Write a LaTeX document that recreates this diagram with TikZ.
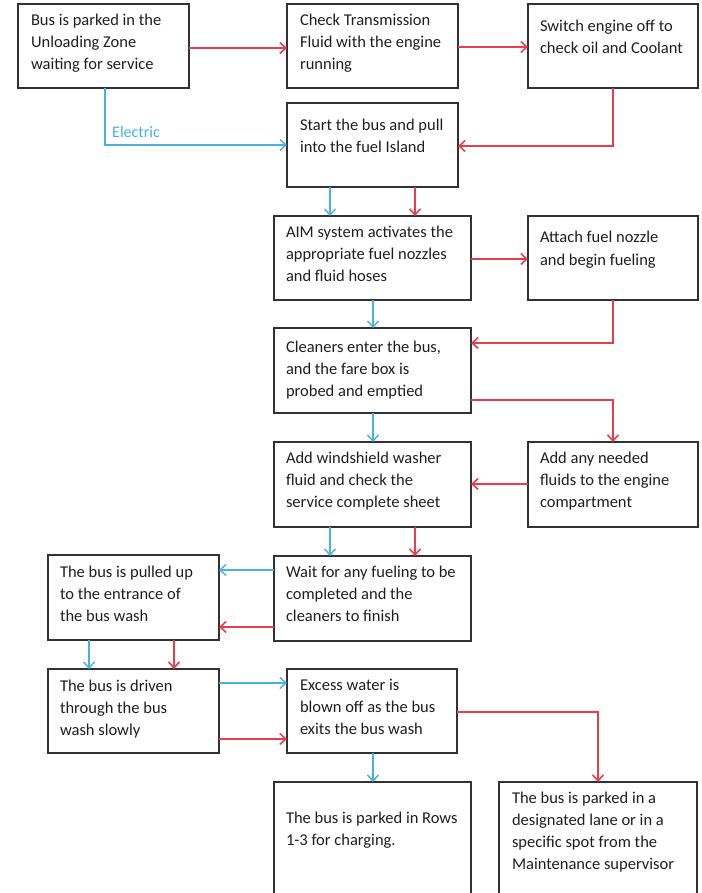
\documentclass[tikz,border=0pt]{standalone}
\usepackage{fontspec}
\setmainfont{Carlito}
\usetikzlibrary{arrows.meta}
\definecolor{rd}{RGB}{230,62,78}
\definecolor{bl}{RGB}{70,178,222}
\definecolor{bd}{RGB}{50,50,50}
\definecolor{tx}{RGB}{30,30,30}
\tikzset{
  box/.style={draw=bd, line width=1.3pt, inner sep=0pt, outer sep=0pt, anchor=north west},
  txt/.style={anchor=north west, inner sep=0pt, outer sep=0pt, align=left, text=tx,
    font=\fontsize{16.5}{22}\selectfont},
  rline/.style={draw=rd, line width=1.9pt, -{Straight Barb[length=6pt,width=11pt,line width=1.6pt]}},
  bline/.style={draw=bl, line width=1.5pt, -{Straight Barb[length=6pt,width=11pt,line width=1.4pt]}},
  lbl/.style={anchor=base west, inner sep=0pt, text=bl, font=\fontsize{16}{19}\selectfont},
}
\newcommand{\st}{\rule{0pt}{14pt}}
\begin{document}
\begin{tikzpicture}[x=1pt,y=-1pt]
\useasboundingbox (0,0) rectangle (701,893);
\clip (0,0) rectangle (701,893);
% boxes
\node[box, minimum width=171, minimum height=84] (bus) at (18,4) {};
\node[box, minimum width=171, minimum height=84] (check) at (287,4) {};
\node[box, minimum width=170, minimum height=84] (switch) at (528,4) {};
\node[box, minimum width=171, minimum height=84] (start) at (287,103) {};
\node[box, minimum width=197, minimum height=84] (aim) at (274,216) {};
\node[box, minimum width=170, minimum height=84] (attach) at (528,216) {};
\node[box, minimum width=197, minimum height=85] (clean) at (274,328) {};
\node[box, minimum width=197, minimum height=85] (wind) at (274,442) {};
\node[box, minimum width=170, minimum height=85] (addany) at (528,442) {};
\node[box, minimum width=197, minimum height=85] (wait) at (274,556) {};
\node[box, minimum width=171, minimum height=85] (pulled) at (48,555) {};
\node[box, minimum width=171, minimum height=84] (driven) at (48,669) {};
\node[box, minimum width=170, minimum height=84] (excess) at (287,669) {};
\node[box, minimum width=197, minimum height=130] (rows) at (274,782) {};
\node[box, minimum width=198, minimum height=130] (maint) at (499,782) {};
% texts
\node[txt] (bus-t) at (31,12) {\st Bus is parked in the\\Unloading Zone\\waiting for service};
\node[txt] (check-t) at (300,12) {\st Check Transmission\\Fluid with the engine\\running};
\node[txt] (switch-t) at (540,18) {\st Switch engine off to\\check oil and Coolant};
\node[txt] (start-t) at (300,117) {\st Start the bus and pull\\into the fuel Island};
\node[txt] (aim-t) at (286,223) {\st AIM system activates the\\appropriate fuel nozzles\\and fluid hoses};
\node[txt] (attach-t) at (540,229) {\st Attach fuel nozzle\\and begin fueling};
\node[txt] (clean-t) at (286,338) {\st Cleaners enter the bus,\\and the fare box is\\probed and emptied};
\node[txt] (wind-t) at (286,449) {\st Add windshield washer\\fluid and check the\\service complete sheet};
\node[txt] (addany-t) at (540,449) {\st Add any needed\\fluids to the engine\\compartment};
\node[txt] (wait-t) at (286,563) {\st Wait for any fueling to be\\completed and the\\cleaners to finish};
\node[txt] (pulled-t) at (60,563) {\st The bus is pulled up\\to the entrance of\\the bus wash};
\node[txt] (driven-t) at (60,677) {\st The bus is driven\\through the bus\\wash slowly};
\node[txt] (excess-t) at (300,676) {\st Excess water is\\blown off as the bus\\exits the bus wash};
\node[txt] (rows-t) at (286,809) {\st The bus is parked in Rows\\1-3 for charging.};
\node[txt] (maint-t) at (512,789) {\st The bus is parked in a\\designated lane or in a\\specific spot from the\\Maintenance supervisor};
\node[lbl] (elec) at (112,138) {Electric};
% connectors
\draw[rline] (bus.east |- 0,48) -- (check.west |- 0,48);
\draw[rline] (check.east |- 0,47) -- (switch.west |- 0,47);
\draw[bline] (bus.south -| 105,0) |- (start.west |- 0,145);
\draw[rline] (switch.south -| 613,0) |- (start.east |- 0,146);
\draw[bline] (start.south -| 330,0) -- (aim.north -| 330,0);
\draw[rline] (start.south -| 415,0) -- (aim.north -| 415,0);
\draw[rline] (aim.east |- 0,259) -- (attach.west |- 0,259);
\draw[bline] (aim.south -| 373,0) -- (clean.north -| 373,0);
\draw[rline] (attach.south -| 613,0) |- (clean.east |- 0,343);
\draw[rline] (clean.east |- 0,400) -| (addany.north -| 613,0);
\draw[bline] (clean.south -| 373,0) -- (wind.north -| 373,0);
\draw[rline] (addany.west |- 0,484) -- (wind.east |- 0,484);
\draw[bline] (wind.south -| 330,0) -- (wait.north -| 330,0);
\draw[rline] (wind.south -| 415,0) -- (wait.north -| 415,0);
\draw[bline] (wait.west |- 0,570) -- (pulled.east |- 0,570);
\draw[rline] (wait.west |- 0,627) -- (pulled.east |- 0,627);
\draw[bline] (pulled.south -| 89,0) -- (driven.north -| 89,0);
\draw[rline] (pulled.south -| 174,0) -- (driven.north -| 174,0);
\draw[bline] (driven.east |- 0,683) -- (excess.west |- 0,683);
\draw[rline] (driven.east |- 0,739) -- (excess.west |- 0,739);
\draw[rline] (excess.east |- 0,712) -| (maint.north -| 598,0);
\draw[bline] (excess.south -| 373,0) -- (rows.north -| 373,0);
\end{tikzpicture}
\end{document}
